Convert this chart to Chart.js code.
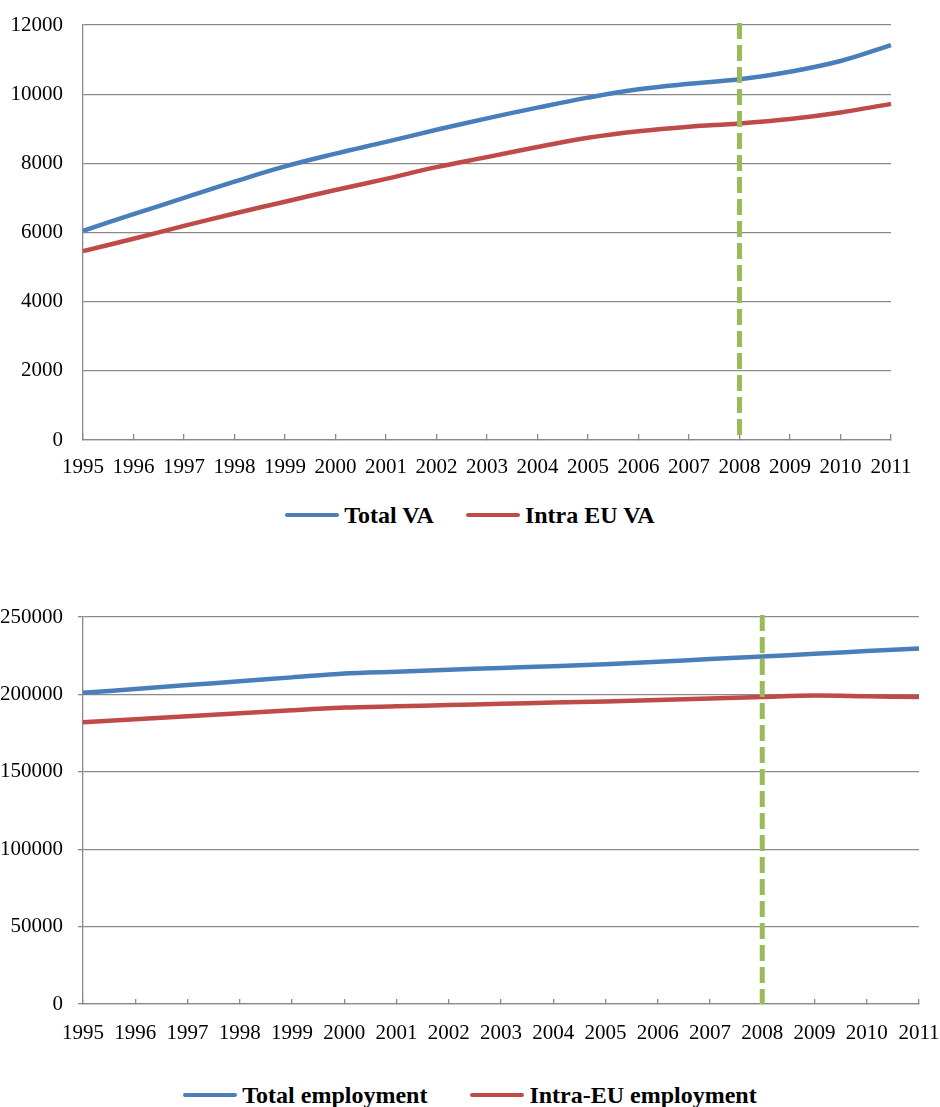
<!DOCTYPE html>
<html>
<head>
<meta charset="utf-8">
<script src="https://cdn.jsdelivr.net/npm/chart.js@4.4.1/dist/chart.umd.min.js"></script>
<style>
  html, body { margin: 0; padding: 0; background: #fff; }
  body { width: 940px; height: 1107px; position: relative; overflow: hidden;
         font-family: "Liberation Serif", "Times New Roman", serif; }
  .panel { position: absolute; left: 0; width: 940px; }
  .legend { position: absolute; left: 0; width: 940px; height: 30px; display: flex;
            justify-content: center; align-items: center; font-weight: bold;
            font-size: 24px; color: #000; }
  .item { display: flex; align-items: center; white-space: nowrap; }
  .swatch { width: 54px; height: 4px; border-radius: 2px; margin-right: 5px; }
</style>
</head>
<body>
<div class="panel" style="top:0;height:490px"><canvas id="va" width="940" height="490"></canvas></div>
<div class="legend" id="vaLegend" style="top:500px;gap:32px"></div>
<div class="panel" style="top:560px;height:494px"><canvas id="emp" width="940" height="494"></canvas></div>
<div class="legend" id="empLegend" style="top:1080px;gap:43px"></div>

<script>
// Years on the horizontal axis
const years = ['1995', '1996', '1997', '1998', '1999', '2000', '2001', '2002', '2003',
               '2004', '2005', '2006', '2007', '2008', '2009', '2010', '2011'];

// Value added
const totalVA = [6050, 6530, 7000, 7470, 7910, 8280, 8620, 8970, 9300,
                 9610, 9900, 10140, 10300, 10430, 10650, 10960, 11420];
const intraVA = [5460, 5820, 6190, 6550, 6890, 7230, 7550, 7890, 8180,
                 8470, 8740, 8930, 9060, 9150, 9280, 9470, 9720];

// Employment
const totalEmp = [201000, 203500, 206000, 208500, 211000, 213500, 214700, 215900, 217100,
                  218200, 219400, 221100, 222800, 224500, 226200, 228000, 229700];
const intraEmp = [182000, 184000, 185900, 187800, 189700, 191500, 192300, 193100, 193900,
                  194700, 195400, 196400, 197400, 198400, 199300, 198800, 198300];

// Value-axis ranges: [min, max, step]
const vaAxis = [0, 12000, 2000];
const empAxis = [0, 250000, 50000];

// Year highlighted by the dashed vertical marker
const markerYear = '2008';

const BLUE = '#4A7EBB';
const RED = '#BE4B48';
const GREEN = '#9BBB59';
const GRID = '#8a8a8a';
const FONT = { family: '"Liberation Serif", "Times New Roman", serif', size: 21 };

// Dashed vertical line drawn at the marker year
const markerLine = {
  id: 'markerLine',
  afterDatasetsDraw(chart, args, opts) {
    const xs = chart.scales.x;
    const x = xs.getPixelForValue(years.indexOf(opts.year));
    const { top, bottom } = chart.chartArea;
    const ctx = chart.ctx;
    ctx.save();
    ctx.strokeStyle = opts.color;
    ctx.lineWidth = opts.width;
    ctx.setLineDash(opts.dash);
    ctx.beginPath();
    ctx.moveTo(x, top - 2);
    ctx.lineTo(x, bottom);
    ctx.stroke();
    ctx.restore();
  }
};

function buildChart(canvasId, legendId, series, axis, cfg) {
  const datasets = series.map(s => ({
    label: s.label,
    data: s.data,
    borderColor: s.color,
    backgroundColor: s.color,
    borderWidth: 4.5,
    pointRadius: 0,
    tension: cfg.tension,
    fill: false
  }));

  new Chart(document.getElementById(canvasId), {
    type: 'line',
    data: { labels: years, datasets },
    options: {
      responsive: false,
      animation: false,
      events: [],
      layout: { padding: { top: cfg.padTop, right: cfg.padRight, bottom: 0, left: 0 } },
      plugins: {
        legend: { display: false },
        tooltip: { enabled: false },
        markerLine: { year: markerYear, color: GREEN, width: 5, dash: [16, 6] }
      },
      scales: {
        x: {
          type: 'category',
          offset: false,
          ticks: { color: '#000', font: FONT, padding: cfg.xPad, maxRotation: 0, autoSkip: false },
          grid: { drawOnChartArea: false, color: GRID, lineWidth: 1.3, tickLength: -cfg.xTick },
          border: { display: true, color: GRID, width: 1.3 },
          afterFit(s) { s.height = 50; s.paddingLeft = 0; s.paddingRight = 0; }
        },
        y: {
          min: axis[0],
          max: axis[1],
          ticks: { stepSize: axis[2], color: '#000', font: FONT, padding: cfg.yPad,
                   callback: v => String(v) },
          grid: { color: GRID, lineWidth: 1.3, drawTicks: cfg.yTick > 0, tickLength: cfg.yTick },
          border: { display: true, color: GRID, width: 1.3 },
          afterFit(s) { s.width = 83; s.paddingTop = 0; s.paddingBottom = 0; }
        }
      }
    },
    plugins: [markerLine]
  });

  const legend = document.getElementById(legendId);
  series.forEach(s => {
    const item = document.createElement('div');
    item.className = 'item';
    const sw = document.createElement('span');
    sw.className = 'swatch';
    sw.style.background = s.color;
    const tx = document.createElement('span');
    tx.textContent = s.label;
    item.appendChild(sw);
    item.appendChild(tx);
    legend.appendChild(item);
  });
}

buildChart('va', 'vaLegend', [
  { label: 'Total VA', data: totalVA, color: BLUE },
  { label: 'Intra EU VA', data: intraVA, color: RED }
], vaAxis, { padTop: 25, padRight: 49, xPad: 21, xTick: 6, yPad: 20, yTick: 0, tension: 0.4 });

buildChart('emp', 'empLegend', [
  { label: 'Total employment', data: totalEmp, color: BLUE },
  { label: 'Intra-EU employment', data: intraEmp, color: RED }
], empAxis, { padTop: 57, padRight: 21, xPad: 22, xTick: 5, yPad: 15, yTick: 5, tension: 0.3 });
</script>
</body>
</html>
